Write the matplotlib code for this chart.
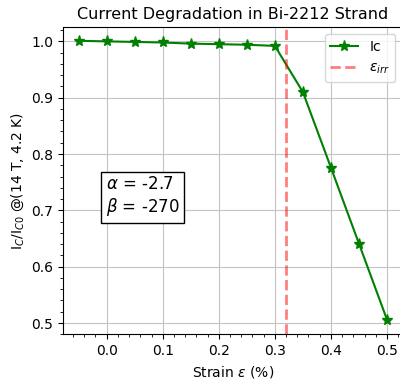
import matplotlib
matplotlib.use("Agg")
import matplotlib.pyplot as plt
import numpy as np

# strain (%) and normalised critical current
strain = [-0.05, 0.0, 0.05, 0.1, 0.15, 0.2, 0.25, 0.3, 0.35, 0.4, 0.45, 0.5]
ic_ratio = [1.001, 1.0, 0.999, 0.998, 0.996, 0.995, 0.994, 0.992, 0.91, 0.776, 0.641, 0.506]
eps_irr = 0.32
alpha = -2.7
beta = -270

fig = plt.figure(figsize=(4.0, 3.79), dpi=100)
ax = fig.add_axes([0.158, 0.118, 0.848, 0.81])

ax.plot(strain, ic_ratio, color='green', marker='*', markersize=8, linewidth=1.5, label='Ic')
ax.axvline(eps_irr, color='red', linestyle='--', alpha=0.5, linewidth=2, label=r'$\varepsilon_{irr}$')

ax.set_title('Current Degradation in Bi-2212 Strand', fontsize=11.5)
ax.set_xlabel(r'Strain $\varepsilon$ (%)', fontsize=10)
ax.set_ylabel(r'I$_C$/I$_{C0}$ @(14 T, 4.2 K)', fontsize=10)
ax.tick_params(labelsize=10)
ax.minorticks_on()
ax.grid(True, which='major', color='#c4c4c4')
ax.set_xticks([0.0, 0.1, 0.2, 0.3, 0.4, 0.5])
ax.set_yticks([0.5, 0.6, 0.7, 0.8, 0.9, 1.0])
ax.set_xlim(-0.0775, 0.5275)
ax.set_ylim(0.48, 1.025)

ax.text(-0.002, 0.724, r'$\alpha$ = %s' % alpha + '\n' + r'$\beta$ = %s' % beta,
        fontsize=12, ha='left', va='center', multialignment='left',
        bbox=dict(boxstyle='square', facecolor='white', edgecolor='black'))

ax.legend(loc='upper right', fontsize=10)

fig.savefig('out.png', dpi=100)
